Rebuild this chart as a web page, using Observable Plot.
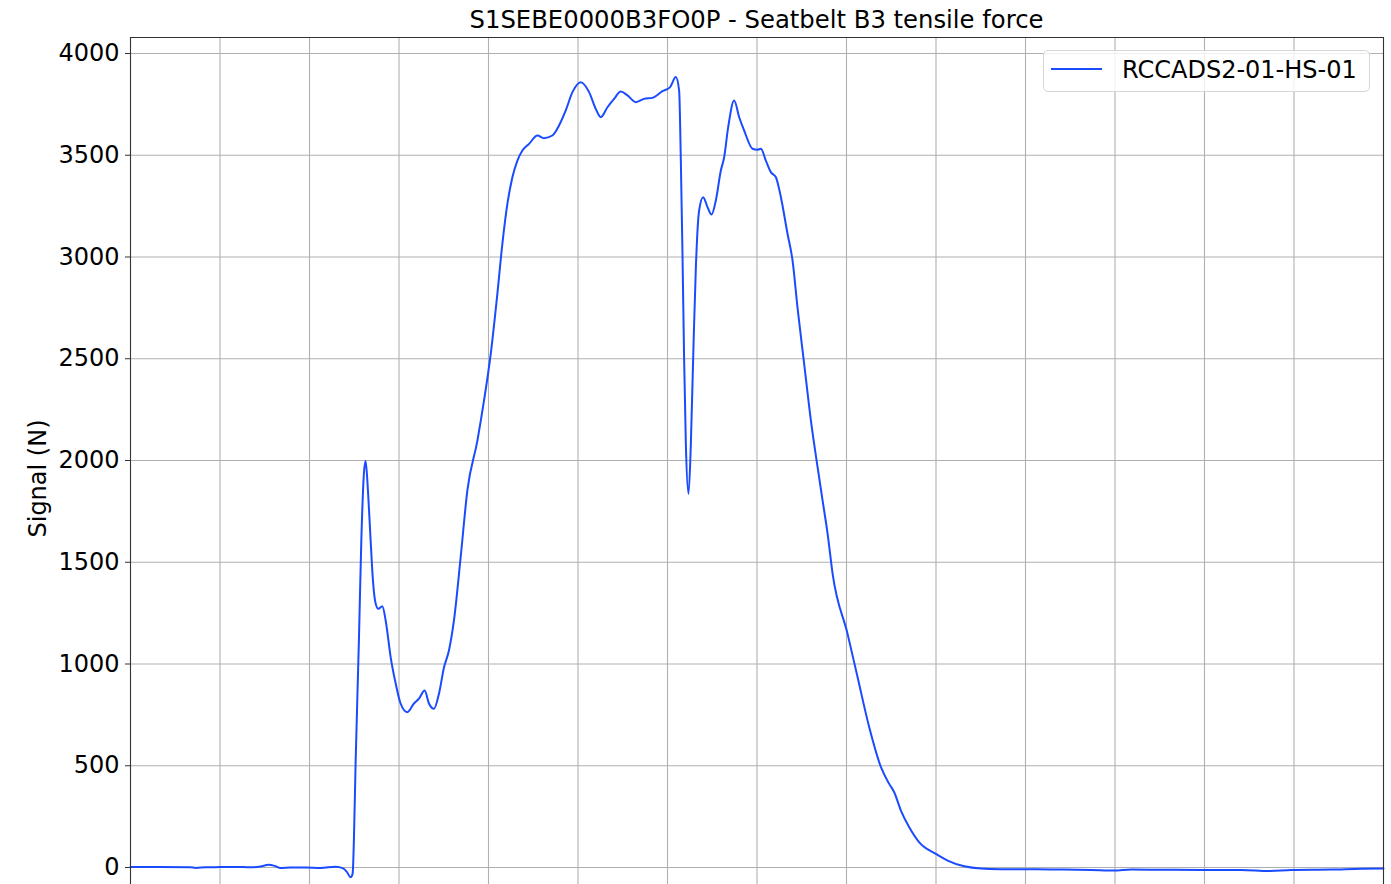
<!DOCTYPE html>
<html>
<head>
<meta charset="utf-8">
<script src="https://cdn.jsdelivr.net/npm/d3@7"></script>
<script src="https://cdn.jsdelivr.net/npm/@observablehq/plot@0.6"></script>
<style>
  html, body { margin: 0; padding: 0; background: #fff; }
  #wrap { position: relative; width: 1391px; height: 884px; overflow: hidden; font-family: "DejaVu Sans", sans-serif; color: #000; }
  #title { position: absolute; left: 130px; width: 1253px; top: 0; height: 37px; line-height: 40px; text-align: center; font-size: 24.3px; white-space: nowrap; }
  #legend { position: absolute; left: 1043px; top: 50px; width: 327px; height: 42px; box-sizing: border-box; border: 1px solid #d6d6d6; border-radius: 5px; background: rgba(255,255,255,0.8); }
  #legend .swatch { position: absolute; left: 7px; top: 17px; width: 51px; height: 2px; }
  #legend .label { position: absolute; left: 78px; top: 5px; line-height: 28px; font-size: 24px; white-space: nowrap; }
  #chart { position: absolute; left: 0; top: 0; }
</style>
</head>
<body>
<div id="wrap">
  <div id="chart"></div>
  <div id="title"></div>
  <div id="legend"><div class="swatch"></div><div class="label"></div></div>
</div>
<script>
// ---- data ----
const title = "S1SEBE0000B3FO0P - Seatbelt B3 tensile force";
const yLabel = "Signal (N)";
const seriesName = "RCCADS2-01-HS-01";
const lineColor = "#1a4bff";

// time axis (unlabelled in the picture; grid every 10 units)
const time = [
  0, 3.35, 6.71, 7.27, 8.38, 9.95, 11.74, 13.42, 14.53, 15.43, 16.1, 16.77, 17.89, 19.56, 21.24, 22.92,
  23.7, 24.15, 24.59, 24.82, 24.96, 25.15, 25.52, 25.79, 26.08, 26.27, 26.53, 26.83, 27.09, 27.39, 27.69,
  28.14, 28.51, 29.07, 29.63, 30.18, 30.93, 31.67, 32.23, 32.87, 33.35, 33.91, 34.47, 35.03, 35.58, 36.14,
  36.89, 37.64, 38.76, 39.5, 40.25, 40.99, 41.55, 42.11, 42.67, 43.23, 43.79, 44.53, 45.47, 46.2, 47.14,
  47.88, 48.63, 49.38, 50.31, 51.24, 51.98, 52.54, 53.29, 54.03, 54.78, 55.53, 56.46, 57.38, 58.32, 59.44,
  60.29, 60.93, 61.3, 61.49, 61.68, 61.86, 62.05, 62.35, 62.61, 62.91, 63.17, 63.53, 63.98, 64.47, 64.92,
  65.4, 65.96, 66.33, 66.78, 67.45, 68.01, 68.56, 69.5, 70.04, 70.43, 70.99, 71.55, 72.11, 72.67, 73.41,
  73.97, 74.53, 75.27, 76.02, 76.77, 77.33, 77.89, 78.45, 80.12, 81.24, 82.54, 83.85, 84.77, 85.33, 86.08,
  87.01, 88.13, 89.99, 91.3, 93.16, 95.02, 97.26, 101.2, 104.0, 107.3, 109.9, 111.8, 115.1, 119.6, 124.1,
  127.2, 129.7, 134.2, 137.5, 140
];
const force = [
  2, 2, 1, -2, 1, 2, 3, 1, 5, 13, 8, -2, 0, 0, -2, 4,
  -3, -20, -48, -30, 133, 511, 1115, 1607, 1936, 1997, 1853, 1607, 1410, 1297, 1271,
  1284, 1214, 1033, 904, 806, 763, 806, 830, 870, 806, 780, 855, 984, 1066, 1214,
  1525, 1853, 2098, 2295, 2524, 2819, 3065, 3261, 3392, 3474, 3523, 3556, 3597, 3584, 3597,
  3646, 3720, 3810, 3859, 3810, 3728, 3687, 3736, 3777, 3813, 3794, 3761, 3777, 3782, 3815,
  3835, 3884, 3818, 3474, 2999, 2491, 2082, 1836, 2082, 2573, 2950, 3228, 3294, 3245, 3209,
  3278, 3425, 3490, 3638, 3769, 3687, 3622, 3532, 3527, 3532, 3474, 3417, 3392, 3294, 3114,
  2983, 2750, 2475, 2197, 1967, 1803, 1640, 1443, 1148, 935, 689, 493, 411, 370, 280,
  198, 124, 67, 34, 6, -5, -8, -9, -10, -12, -15, -10, -11, -12, -12,
  -17, -12, -10, -6, -5
];
const yTicks = [0, 500, 1000, 1500, 2000, 2500, 3000, 3500, 4000];
const xTicks = [0, 10, 20, 30, 40, 50, 60, 70, 80, 90, 100, 110, 120, 130, 140];

// ---- build ----
const rows = time.map((t, i) => ({t, v: force[i]}));
const xDomain = [xTicks[0], xTicks[xTicks.length - 1]];
const yDomain = [-83.5, 4078.6];

document.getElementById("title").textContent = title;
document.querySelector("#legend .label").textContent = seriesName;
document.querySelector("#legend .swatch").style.background = lineColor;

const chart = Plot.plot({
  width: 1391,
  height: 884,
  marginTop: 37,
  marginBottom: 0,
  marginLeft: 130,
  marginRight: 8,
  style: {fontFamily: "DejaVu Sans", fontSize: "24px", color: "#000", background: "transparent", overflow: "visible"},
  x: {domain: xDomain, axis: null},
  y: {domain: yDomain},
  marks: [
    Plot.ruleX(xTicks.slice(1, -1), {stroke: "#b0b0b0", strokeWidth: 1.1}),
    Plot.ruleY(yTicks, {stroke: "#b0b0b0", strokeWidth: 1.1}),
    Plot.axisY(yTicks, {tickSize: 5, tickPadding: 6, fontSize: 24, label: null, stroke: "#333", tickFormat: (d) => String(d)}),
    Plot.line(rows, {x: "t", y: "v", stroke: lineColor, strokeWidth: 2, curve: "monotone-x"}),
    Plot.ruleX(xDomain, {stroke: "#333", strokeWidth: 1.1}),
    Plot.ruleY([yDomain[1]], {stroke: "#333", strokeWidth: 1.1}),
    Plot.text([yLabel], {frameAnchor: "left", rotate: -90, textAnchor: "middle", lineAnchor: "middle", dx: -92.5, dy: 17.5, fontSize: 24})
  ]
});
document.getElementById("chart").appendChild(chart);
</script>
</body>
</html>
